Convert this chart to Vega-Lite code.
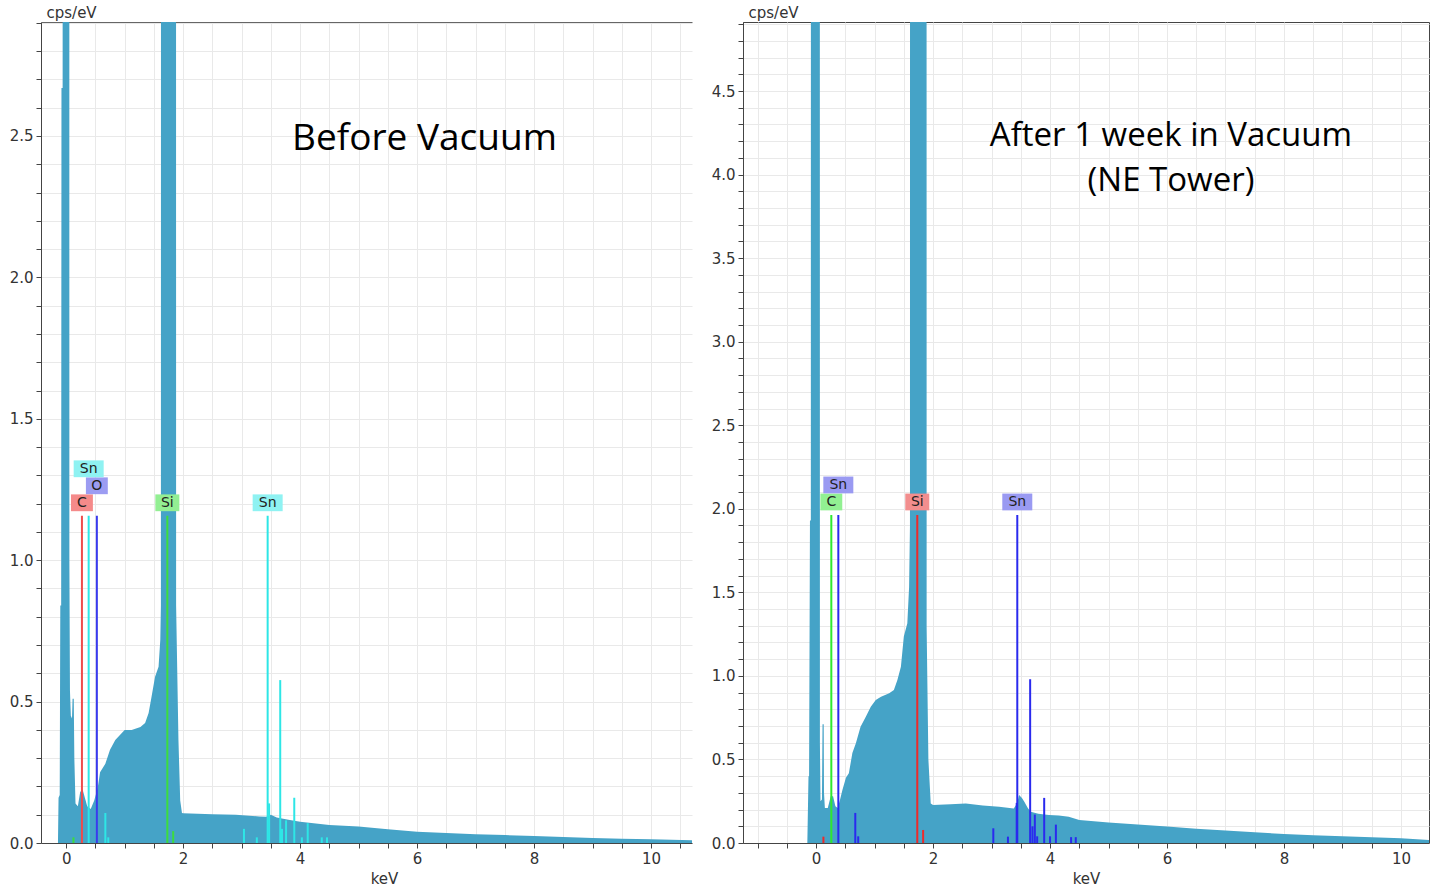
{
  "$schema": "https://vega.github.io/schema/vega-lite/v6.json",
  "background": "white",
  "padding": {"left": 9, "top": 4, "right": 6, "bottom": 4},
  "spacing": 18,
  "config": {
    "view": {"stroke": null},
    "axis": {
      "labelFont": "DejaVu Sans", "labelFontSize": 15, "labelColor": "#333",
      "titleFont": "DejaVu Sans", "titleFontSize": 15, "titleFontWeight": "normal", "titleColor": "#333",
      "tickColor": "#444", "domainColor": "#444", "gridColor": "#e9e9e9", "tickSize": 5, "labelPadding": 3,
      "tickCount": 200, "labelOverlap": false
    },
    "title": {"font": "Open Sans", "fontSize": 37, "fontWeight": "normal", "color": "#000"}
  },
  "datasets": {
    "specL": [
      {"kev": -0.43, "cps": 0}, {"kev": -0.14, "cps": 0}, {"kev": -0.13, "cps": 0.16}, {"kev": -0.11, "cps": 0.17},
      {"kev": -0.10, "cps": 0.84}, {"kev": -0.085, "cps": 0.84}, {"kev": -0.08, "cps": 2.67}, {"kev": -0.06, "cps": 2.67},
      {"kev": -0.055, "cps": 20}, {"kev": 0.05, "cps": 20}, {"kev": 0.055, "cps": 1.01}, {"kev": 0.065, "cps": 0.54},
      {"kev": 0.08, "cps": 0.45}, {"kev": 0.10, "cps": 0.44}, {"kev": 0.11, "cps": 0.51}, {"kev": 0.13, "cps": 0.51},
      {"kev": 0.14, "cps": 0.3}, {"kev": 0.16, "cps": 0.14}, {"kev": 0.2, "cps": 0.13}, {"kev": 0.24, "cps": 0.18},
      {"kev": 0.28, "cps": 0.19}, {"kev": 0.32, "cps": 0.16}, {"kev": 0.36, "cps": 0.13}, {"kev": 0.42, "cps": 0.12},
      {"kev": 0.48, "cps": 0.15}, {"kev": 0.54, "cps": 0.195}, {"kev": 0.58, "cps": 0.25}, {"kev": 0.67, "cps": 0.28},
      {"kev": 0.75, "cps": 0.33}, {"kev": 0.84, "cps": 0.364}, {"kev": 0.92, "cps": 0.382}, {"kev": 1.0, "cps": 0.40},
      {"kev": 1.12, "cps": 0.40}, {"kev": 1.27, "cps": 0.41}, {"kev": 1.35, "cps": 0.424}, {"kev": 1.41, "cps": 0.46},
      {"kev": 1.46, "cps": 0.517}, {"kev": 1.52, "cps": 0.588}, {"kev": 1.58, "cps": 0.623}, {"kev": 1.61, "cps": 0.72},
      {"kev": 1.62, "cps": 0.84}, {"kev": 1.63, "cps": 20}, {"kev": 1.87, "cps": 20}, {"kev": 1.88, "cps": 0.84},
      {"kev": 1.90, "cps": 0.6}, {"kev": 1.92, "cps": 0.364}, {"kev": 1.95, "cps": 0.15}, {"kev": 1.98, "cps": 0.106},
      {"kev": 2.0, "cps": 0.105}, {"kev": 2.5, "cps": 0.102}, {"kev": 2.9, "cps": 0.1}, {"kev": 3.3, "cps": 0.094},
      {"kev": 3.42, "cps": 0.093}, {"kev": 3.5, "cps": 0.1}, {"kev": 3.6, "cps": 0.09}, {"kev": 3.8, "cps": 0.082},
      {"kev": 4.0, "cps": 0.075}, {"kev": 4.5, "cps": 0.064}, {"kev": 5.0, "cps": 0.058}, {"kev": 5.5, "cps": 0.049},
      {"kev": 6.0, "cps": 0.04}, {"kev": 6.5, "cps": 0.035}, {"kev": 7.0, "cps": 0.031}, {"kev": 7.5, "cps": 0.028},
      {"kev": 8.0, "cps": 0.025}, {"kev": 8.5, "cps": 0.021}, {"kev": 9.0, "cps": 0.018}, {"kev": 9.5, "cps": 0.015},
      {"kev": 10.0, "cps": 0.013}, {"kev": 10.7, "cps": 0.0095}
    ],
    "specR": [
      {"kev": -1.25, "cps": 0}, {"kev": -0.15, "cps": 0}, {"kev": -0.13, "cps": 0.40}, {"kev": -0.12, "cps": 0.40},
      {"kev": -0.105, "cps": 1.93}, {"kev": -0.09, "cps": 1.93}, {"kev": -0.085, "cps": 20}, {"kev": 0.06, "cps": 20},
      {"kev": 0.065, "cps": 0.6}, {"kev": 0.075, "cps": 0.25}, {"kev": 0.10, "cps": 0.26}, {"kev": 0.11, "cps": 0.71},
      {"kev": 0.13, "cps": 0.71}, {"kev": 0.135, "cps": 0.3}, {"kev": 0.15, "cps": 0.21}, {"kev": 0.2, "cps": 0.21},
      {"kev": 0.25, "cps": 0.28}, {"kev": 0.29, "cps": 0.28}, {"kev": 0.33, "cps": 0.22}, {"kev": 0.37, "cps": 0.21},
      {"kev": 0.41, "cps": 0.26}, {"kev": 0.45, "cps": 0.317}, {"kev": 0.51, "cps": 0.39}, {"kev": 0.56, "cps": 0.417},
      {"kev": 0.62, "cps": 0.538}, {"kev": 0.68, "cps": 0.597}, {"kev": 0.76, "cps": 0.696}, {"kev": 0.85, "cps": 0.756},
      {"kev": 0.935, "cps": 0.816}, {"kev": 1.02, "cps": 0.856}, {"kev": 1.11, "cps": 0.875}, {"kev": 1.25, "cps": 0.896},
      {"kev": 1.33, "cps": 0.916}, {"kev": 1.39, "cps": 0.975}, {"kev": 1.45, "cps": 1.055}, {"kev": 1.50, "cps": 1.235},
      {"kev": 1.56, "cps": 1.315}, {"kev": 1.59, "cps": 1.53}, {"kev": 1.605, "cps": 1.9}, {"kev": 1.61, "cps": 20},
      {"kev": 1.885, "cps": 20}, {"kev": 1.89, "cps": 1.29}, {"kev": 1.92, "cps": 0.5}, {"kev": 1.96, "cps": 0.237},
      {"kev": 2.0, "cps": 0.227}, {"kev": 2.3, "cps": 0.232}, {"kev": 2.56, "cps": 0.237}, {"kev": 2.85, "cps": 0.225},
      {"kev": 3.13, "cps": 0.217}, {"kev": 3.38, "cps": 0.207}, {"kev": 3.44, "cps": 0.24}, {"kev": 3.47, "cps": 0.287},
      {"kev": 3.52, "cps": 0.27}, {"kev": 3.56, "cps": 0.247}, {"kev": 3.62, "cps": 0.21}, {"kev": 3.67, "cps": 0.187},
      {"kev": 3.8, "cps": 0.175}, {"kev": 3.98, "cps": 0.168}, {"kev": 4.15, "cps": 0.165}, {"kev": 4.32, "cps": 0.157},
      {"kev": 4.5, "cps": 0.138}, {"kev": 5.0, "cps": 0.122}, {"kev": 5.5, "cps": 0.11}, {"kev": 6.0, "cps": 0.098},
      {"kev": 6.5, "cps": 0.085}, {"kev": 7.0, "cps": 0.075}, {"kev": 7.5, "cps": 0.064}, {"kev": 8.0, "cps": 0.054},
      {"kev": 8.5, "cps": 0.047}, {"kev": 9.0, "cps": 0.04}, {"kev": 9.5, "cps": 0.034}, {"kev": 10.0, "cps": 0.028},
      {"kev": 10.48, "cps": 0.018}
    ],
    "markL": [
      {"kev": 0.27, "h": 1.157, "el": "C", "label": "C", "level": 0},
      {"kev": 0.385, "h": 1.157, "el": "Sn", "label": "Sn", "level": 2},
      {"kev": 0.525, "h": 1.157, "el": "O", "label": "O", "level": 1},
      {"kev": 1.73, "h": 1.157, "el": "Si", "label": "Si", "level": 0},
      {"kev": 3.445, "h": 1.157, "el": "Sn", "label": "Sn", "level": 0},
      {"kev": 0.125, "h": 0.02, "el": "Si"},
      {"kev": 0.67, "h": 0.106, "el": "Sn"},
      {"kev": 0.72, "h": 0.02, "el": "Sn"},
      {"kev": 1.83, "h": 0.042, "el": "Si"},
      {"kev": 3.04, "h": 0.05, "el": "Sn"},
      {"kev": 3.26, "h": 0.02, "el": "Sn"},
      {"kev": 3.47, "h": 0.14, "el": "Sn"},
      {"kev": 3.66, "h": 0.576, "el": "Sn"},
      {"kev": 3.69, "h": 0.05, "el": "Sn"},
      {"kev": 3.76, "h": 0.08, "el": "Sn"},
      {"kev": 3.9, "h": 0.16, "el": "Sn"},
      {"kev": 4.03, "h": 0.02, "el": "Sn"},
      {"kev": 4.13, "h": 0.07, "el": "Sn"},
      {"kev": 4.37, "h": 0.02, "el": "Sn"},
      {"kev": 4.46, "h": 0.02, "el": "Sn"}
    ],
    "markR": [
      {"kev": 0.26, "h": 1.963, "el": "C", "label": "C", "level": 0},
      {"kev": 0.38, "h": 1.963, "el": "Sn", "label": "Sn", "level": 1},
      {"kev": 1.73, "h": 1.963, "el": "Si", "label": "Si", "level": 0},
      {"kev": 3.44, "h": 1.963, "el": "Sn", "label": "Sn", "level": 0},
      {"kev": 0.125, "h": 0.038, "el": "Si"},
      {"kev": 0.67, "h": 0.18, "el": "Sn"},
      {"kev": 0.72, "h": 0.04, "el": "Sn"},
      {"kev": 1.83, "h": 0.078, "el": "Si"},
      {"kev": 3.03, "h": 0.088, "el": "Sn"},
      {"kev": 3.28, "h": 0.038, "el": "Sn"},
      {"kev": 3.43, "h": 0.24, "el": "Sn"},
      {"kev": 3.66, "h": 0.98, "el": "Sn"},
      {"kev": 3.70, "h": 0.10, "el": "Sn"},
      {"kev": 3.74, "h": 0.17, "el": "Sn"},
      {"kev": 3.78, "h": 0.04, "el": "Sn"},
      {"kev": 3.90, "h": 0.27, "el": "Sn"},
      {"kev": 4.0, "h": 0.04, "el": "Sn"},
      {"kev": 4.10, "h": 0.11, "el": "Sn"},
      {"kev": 4.36, "h": 0.035, "el": "Sn"},
      {"kev": 4.44, "h": 0.035, "el": "Sn"}
    ]
  },
  "resolve": {"scale": {"x": "independent", "y": "independent", "stroke": "independent", "fill": "independent"}},
  "hconcat": [
    {
      "width": 651, "height": 821,
      "title": {"text": "Before Vacuum", "anchor": "middle", "baseline": "alphabetic", "offset": 0, "dx": 58, "dy": 182},
      "resolve": {"axis": {"x": "independent"}},
      "layer": [
        {
          "data": {"name": "specL"},
          "mark": {"type": "area", "color": "#45a3c7", "clip": true, "interpolate": "linear"},
          "encoding": {
            "x": {"field": "kev", "type": "quantitative", "scale": {"domain": [-0.43, 10.7], "nice": false, "zero": false},
              "axis": {"values": [0,0.5,1,1.5,2,2.5,3,3.5,4,4.5,5,5.5,6,6.5,7,7.5,8,8.5,9,9.5,10,10.5],
                "labelExpr": "datum.value % 2 == 0 ? format(datum.value, 'd') : ''",
                "title": "keV", "titleX": 343, "titleY": 40, "titleBaseline": "alphabetic", "titleAnchor": "middle", "titleAlign": "center"}},
            "y": {"field": "cps", "type": "quantitative", "scale": {"domain": [0, 2.903], "nice": false},
              "axis": {"values": [0,0.1,0.2,0.3,0.4,0.5,0.6,0.7,0.8,0.9,1,1.1,1.2,1.3,1.4,1.5,1.6,1.7,1.8,1.9,2,2.1,2.2,2.3,2.4,2.5,2.6,2.7,2.8,2.9],
                "labelExpr": "abs(datum.value*2 - round(datum.value*2)) < 0.001 ? format(datum.value, '.1f') : ''",
                "title": "cps/eV", "titleAngle": 0, "titleAlign": "left", "titleBaseline": "bottom", "titleX": 5, "titleY": -2}}
          }
        },
        {
          "data": {"name": "markL"},
          "mark": {"type": "rule", "strokeWidth": 2, "clip": true},
          "encoding": {
            "x": {"field": "kev", "type": "quantitative", "axis": {"orient": "top", "labels": false, "ticks": false, "grid": false, "title": null, "domain": true, "domainColor": "#666"}},
            "y": {"field": "h", "type": "quantitative"},
            "y2": {"datum": 0},
            "stroke": {"field": "el", "type": "nominal", "legend": null,
              "scale": {"domain": ["C", "Sn", "O", "Si"], "range": ["#ee4c4c", "#2ee6e6", "#3a3aee", "#3ddc3d"]}}
          }
        },
        {
          "data": {"name": "markL"},
          "transform": [{"filter": "datum.level == 0"}],
          "encoding": {
            "x": {"field": "kev", "type": "quantitative", "axis": null},
            "y": {"field": "h", "type": "quantitative"}
          },
          "layer": [
            {"mark": {"type": "point", "filled": true, "size": 900, "opacity": 1, "strokeWidth": 0, "yOffset": -13},
             "encoding": {
              "fill": {"field": "el", "type": "nominal", "legend": null,
                "scale": {"domain": ["C", "Sn", "O", "Si"], "range": ["#f58a8a", "#8ff2f2", "#9c9cf2", "#93ef93"]}},
              "shape": {"field": "label", "type": "nominal", "legend": null,
                "scale": {"domain": ["C", "O", "Si", "Sn"], "range": ["M-0.73,-0.56H0.73V0.56H-0.73Z", "M-0.73,-0.56H0.73V0.56H-0.73Z", "M-0.8,-0.56H0.8V0.56H-0.8Z", "M-1,-0.56H1V0.56H-1Z"]}}}},
            {"mark": {"type": "text", "fontSize": 14, "font": "DejaVu Sans", "color": "#222", "baseline": "middle", "yOffset": -13}, "encoding": {"text": {"field": "label"}}}
          ]
        },
        {
          "data": {"name": "markL"},
          "transform": [{"filter": "datum.level == 1"}],
          "encoding": {
            "x": {"field": "kev", "type": "quantitative", "axis": null},
            "y": {"field": "h", "type": "quantitative"}
          },
          "layer": [
            {"mark": {"type": "point", "filled": true, "size": 900, "opacity": 1, "strokeWidth": 0, "yOffset": -30},
             "encoding": {
              "fill": {"field": "el", "type": "nominal", "legend": null},
              "shape": {"field": "label", "type": "nominal", "legend": null}}},
            {"mark": {"type": "text", "fontSize": 14, "font": "DejaVu Sans", "color": "#222", "baseline": "middle", "yOffset": -30}, "encoding": {"text": {"field": "label"}}}
          ]
        },
        {
          "data": {"name": "markL"},
          "transform": [{"filter": "datum.level == 2"}],
          "encoding": {
            "x": {"field": "kev", "type": "quantitative", "axis": null},
            "y": {"field": "h", "type": "quantitative"}
          },
          "layer": [
            {"mark": {"type": "point", "filled": true, "size": 900, "opacity": 1, "strokeWidth": 0, "yOffset": -47},
             "encoding": {
              "fill": {"field": "el", "type": "nominal", "legend": null},
              "shape": {"field": "label", "type": "nominal", "legend": null}}},
            {"mark": {"type": "text", "fontSize": 14, "font": "DejaVu Sans", "color": "#222", "baseline": "middle", "yOffset": -47}, "encoding": {"text": {"field": "label"}}}
          ]
        }
      ]
    },
    {
      "width": 686, "height": 821,
      "view": {"stroke": "#444", "strokeWidth": 1},
      "title": {"text": ["After 1 week in Vacuum", "(NE Tower)"], "fontSize": 33, "anchor": "middle", "baseline": "alphabetic", "offset": 0, "dx": 85, "dy": 219, "lineHeight": 45},
      "layer": [
        {
          "data": {"name": "specR"},
          "mark": {"type": "area", "color": "#45a3c7", "clip": true, "interpolate": "linear"},
          "encoding": {
            "x": {"field": "kev", "type": "quantitative", "scale": {"domain": [-1.25, 10.48], "nice": false, "zero": false},
              "axis": {"values": [-1,-0.5,0,0.5,1,1.5,2,2.5,3,3.5,4,4.5,5,5.5,6,6.5,7,7.5,8,8.5,9,9.5,10],
                "labelExpr": "datum.value % 2 == 0 ? format(datum.value, 'd') : ''",
                "title": "keV", "titleX": 343, "titleY": 40, "titleBaseline": "alphabetic", "titleAnchor": "middle", "titleAlign": "center"}},
            "y": {"field": "cps", "type": "quantitative", "scale": {"domain": [0, 4.913], "nice": false},
              "axis": {"values": [0,0.1,0.2,0.3,0.4,0.5,0.6,0.7,0.8,0.9,1,1.1,1.2,1.3,1.4,1.5,1.6,1.7,1.8,1.9,2,2.1,2.2,2.3,2.4,2.5,2.6,2.7,2.8,2.9,3,3.1,3.2,3.3,3.4,3.5,3.6,3.7,3.8,3.9,4,4.1,4.2,4.3,4.4,4.5,4.6,4.7,4.8,4.9],
                "labelExpr": "abs(datum.value*2 - round(datum.value*2)) < 0.001 ? format(datum.value, '.1f') : ''",
                "title": "cps/eV", "titleAngle": 0, "titleAlign": "left", "titleBaseline": "bottom", "titleX": 5, "titleY": -2}}
          }
        },
        {
          "data": {"name": "markR"},
          "mark": {"type": "rule", "strokeWidth": 2, "clip": true},
          "encoding": {
            "x": {"field": "kev", "type": "quantitative"},
            "y": {"field": "h", "type": "quantitative"},
            "y2": {"datum": 0},
            "stroke": {"field": "el", "type": "nominal", "legend": null,
              "scale": {"domain": ["C", "Sn", "Si"], "range": ["#2fe82f", "#2a2aee", "#ee2a2a"]}}
          }
        },
        {
          "data": {"name": "markR"},
          "transform": [{"filter": "datum.level == 0"}],
          "encoding": {
            "x": {"field": "kev", "type": "quantitative"},
            "y": {"field": "h", "type": "quantitative"}
          },
          "layer": [
            {"mark": {"type": "point", "filled": true, "size": 900, "opacity": 1, "strokeWidth": 0, "yOffset": -13},
             "encoding": {
              "fill": {"field": "el", "type": "nominal", "legend": null,
                "scale": {"domain": ["C", "Sn", "Si"], "range": ["#92f092", "#9a9af2", "#f28e8e"]}},
              "shape": {"field": "label", "type": "nominal", "legend": null}}},
            {"mark": {"type": "text", "fontSize": 14, "font": "DejaVu Sans", "color": "#222", "baseline": "middle", "yOffset": -13}, "encoding": {"text": {"field": "label"}}}
          ]
        },
        {
          "data": {"name": "markR"},
          "transform": [{"filter": "datum.level == 1"}],
          "encoding": {
            "x": {"field": "kev", "type": "quantitative"},
            "y": {"field": "h", "type": "quantitative"}
          },
          "layer": [
            {"mark": {"type": "point", "filled": true, "size": 900, "opacity": 1, "strokeWidth": 0, "yOffset": -30},
             "encoding": {
              "fill": {"field": "el", "type": "nominal", "legend": null},
              "shape": {"field": "label", "type": "nominal", "legend": null}}},
            {"mark": {"type": "text", "fontSize": 14, "font": "DejaVu Sans", "color": "#222", "baseline": "middle", "yOffset": -30}, "encoding": {"text": {"field": "label"}}}
          ]
        }
      ]
    }
  ]
}
